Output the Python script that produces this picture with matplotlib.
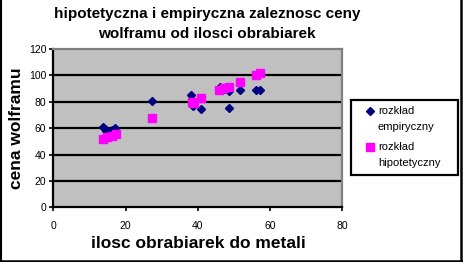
import numpy as np
import matplotlib
matplotlib.use("Agg")
import matplotlib.pyplot as plt
from matplotlib.lines import Line2D
from matplotlib.patches import Rectangle

plt.rcParams['font.family'] = ['Liberation Sans', 'DejaVu Sans']

# data
emp_x = [13.7, 14.2, 14.6, 16.2, 17.1, 27.3, 38.2, 38.8, 40.8, 46.2, 47.3, 48.6, 48.5, 51.8, 56.0, 57.2]
emp_y = [61.0, 59.5, 58.0, 58.5, 60.0, 80.5, 85.3, 77.0, 74.5, 91.0, 90.0, 88.5, 75.5, 88.7, 88.7, 88.7]

hyp_x = [13.7, 14.8, 16.2, 17.4, 27.3, 38.3, 39.0, 40.8, 46.0, 47.3, 48.7, 51.8, 56.0, 57.2]
hyp_y = [51.8, 53.0, 54.3, 55.8, 67.5, 80.0, 79.3, 82.8, 88.7, 90.2, 91.4, 95.2, 100.3, 101.5]

x_ticks = [0, 20, 40, 60, 80]
y_ticks = [0, 20, 40, 60, 80, 100, 120]

emp_name = ['rozkład', 'empiryczny']
hyp_name = ['rozkład', 'hipotetyczny']

fig = plt.figure(figsize=(4.63, 2.62), dpi=100)
W, H = 463, 262
ax = fig.add_axes([53.3 / W, 1 - 207.3 / H, 289 / W, 158.3 / H])
ax.set_facecolor('#c0c0c0')

for y in y_ticks[1:-1]:
    ax.axhline(y, color='black', lw=1.6, zorder=1)

ax.plot(emp_x, emp_y, linestyle='none', marker='D', ms=4.1,
        color='#000080', mec='#000080', zorder=3)
ax.plot(hyp_x, hyp_y, linestyle='none', marker='s', ms=5.8,
        color='#ff00ff', mec='#ff00ff', zorder=4)

ax.set_xlim(0, 80)
ax.set_ylim(0, 120)
ax.set_xticks(x_ticks)
ax.set_yticks(y_ticks)
ax.tick_params(axis='both', labelsize=7.5, length=3, width=1.2, color='black', pad=2)
ax.tick_params(axis='x', pad=7)

for side in ['top', 'right']:
    ax.spines[side].set_color('#808080')
    ax.spines[side].set_linewidth(1.6)
for side in ['left', 'bottom']:
    ax.spines[side].set_color('black')
    ax.spines[side].set_linewidth(1.6)

fig.text(207 / W, 1 - 14 / H, 'hipotetyczna i empiryczna zaleznosc ceny',
         ha='center', va='center', fontsize=11, fontweight='bold')
fig.text(207 / W, 1 - 34 / H, 'wolframu od ilosci obrabiarek',
         ha='center', va='center', fontsize=11, fontweight='bold')
fig.text(17 / W, 1 - 128.5 / H, 'cena wolframu', rotation=90,
         ha='center', va='center', fontsize=12.5, fontweight='bold')
fig.text(198.5 / W, 1 - 243 / H, 'ilosc obrabiarek do metali',
         ha='center', va='center', fontsize=12.5, fontweight='bold')

# legend box drawn by hand to follow the reference layout
fig.add_artist(Rectangle((351 / W, 1 - 175 / H), 107 / W, 75 / H,
                         transform=fig.transFigure, facecolor='white',
                         edgecolor='black', lw=1.6))
fig.add_artist(Line2D([370 / W], [1 - 111 / H], marker='D', ms=4.1,
                      color='#000080', linestyle='none'))
fig.add_artist(Line2D([370 / W], [1 - 146.5 / H], marker='s', ms=5.8,
                      color='#ff00ff', linestyle='none'))
for name, y0 in [(emp_name, 111), (hyp_name, 146.5)]:
    fig.text(378 / W, 1 - y0 / H, name[0], ha='left', va='center', fontsize=8)
    fig.text(378 / W, 1 - (y0 + 16) / H, name[1], ha='left', va='center', fontsize=8)

# outer border of the chart area
fig.add_artist(Line2D([0.5 / W, 0.5 / W], [0, 1], color='black', lw=1.5))
fig.add_artist(Line2D([461 / W, 461 / W], [0, 1], color='black', lw=1.8))
fig.add_artist(Line2D([0, 462 / W], [1.5 / H, 1.5 / H], color='black', lw=1.8))

fig.savefig('out.png', dpi=100)
